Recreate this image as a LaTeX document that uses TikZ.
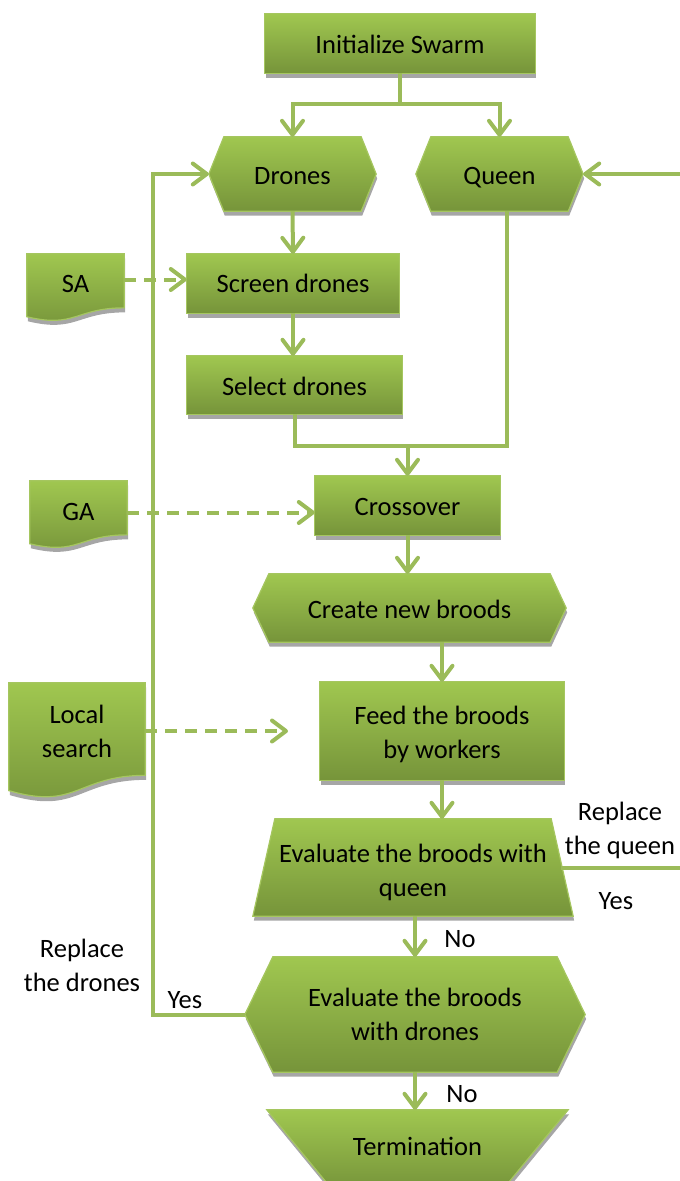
\documentclass[tikz,border=0pt]{standalone}
\usepackage{fontspec}
\setmainfont{Carlito}
\usetikzlibrary{arrows.meta,calc,backgrounds}
\definecolor{lc}{RGB}{155,187,89}
\definecolor{gtop}{RGB}{160,199,80}
\definecolor{gbot}{RGB}{118,148,58}
\definecolor{bordc}{RGB}{165,198,95}
\definecolor{shc}{RGB}{166,166,166}
\newcommand{\rectP}[1]{(#1.north west) rectangle (#1.south east)}
\newcommand{\hexP}[2]{($(#1.north west)+(#2,0)$) -- ($(#1.north east)+(-#2,0)$) -- (#1.east) -- ($(#1.south east)+(-#2,0)$) -- ($(#1.south west)+(#2,0)$) -- (#1.west) -- cycle}
\newcommand{\trapUpP}[2]{($(#1.north west)+(#2,0)$) -- ($(#1.north east)+(-#2,0)$) -- (#1.south east) -- (#1.south west) -- cycle}
\newcommand{\trapDnP}[2]{(#1.north west) -- (#1.north east) -- ($(#1.south east)+(-#2,0)$) -- ($(#1.south west)+(#2,0)$) -- cycle}
\newcommand{\docP}[1]{(#1.north west) -- (#1.north east) -- ($(#1.north east)!0.802!(#1.south east)$) .. controls ($(#1.north)!0.802!(#1.south)$) and ($(#1.north)!1.1075!(#1.south)$) .. ($(#1.north west)!0.934!(#1.south west)$) -- cycle}
\newcommand{\lnstrut}{\rule[-6pt]{0pt}{32pt}}
\newcommand{\twolines}[2]{\begin{tabular}{@{}c@{}}#1\\#2\end{tabular}}
\begin{document}
\begin{tikzpicture}[x=1pt,y=-1pt,
  every node/.style={font=\fontsize{26.5}{34}\selectfont},
  box/.style={inner sep=0pt, align=center},
  lbl/.style={inner sep=0pt, align=center},
  ln/.style={draw=lc, line width=4pt},
  arr/.style={draw=lc, line width=4pt, -{Straight Barb[length=14pt,width=21pt,line width=4pt,round]}},
  darr/.style={arr, dash pattern=on 12pt off 8pt},
  shp/.style={top color=gtop, bottom color=gbot, draw=bordc, line width=1.2pt},
  shd/.style={fill=shc}]
\useasboundingbox (0,0) rectangle (680,1181);

% nodes
\node[box, minimum width=270pt, minimum height=59pt] (init) at (400,43.5) {\lnstrut Initialize Swarm};
\node[box, minimum width=167pt, minimum height=74pt] (drones) at (292.5,174) {\lnstrut Drones};
\node[box, minimum width=167pt, minimum height=74pt] (queen) at (499.5,174) {\lnstrut Queen};
\node[box, minimum width=97pt, minimum height=67pt] (sa) at (75.5,287.5) {\rule[-11pt]{0pt}{32pt}SA};
\node[box, minimum width=212pt, minimum height=59pt] (screen) at (293,283.5) {\rule[-7pt]{0pt}{32pt}Screen drones};
\node[box, minimum width=215pt, minimum height=58pt] (select) at (294.5,385) {\lnstrut Select drones};
\node[box, minimum width=97pt, minimum height=67pt] (ga) at (78.5,514.5) {\rule[-10pt]{0pt}{32pt}GA};
\node[box, minimum width=185pt, minimum height=59pt] (cross) at (407.5,505.5) {\lnstrut Crossover};
\node[box, minimum width=313pt, minimum height=68pt] (create) at (409.5,608) {\lnstrut Create new broods};
\node[box, minimum width=136pt, minimum height=115pt] (local) at (77,740.5) {\twolines{Local}{search}\rule[-42pt]{0pt}{1pt}};
\node[box, minimum width=244pt, minimum height=98pt] (feed) at (442,731) {\rule{0pt}{47pt}\twolines{Feed the broods}{by workers}};
\node[box, minimum width=320pt, minimum height=97pt] (evalq) at (413,867.5) {\rule{0pt}{51pt}\twolines{Evaluate the broods with}{queen}};
\node[box, minimum width=340pt, minimum height=115pt] (evald) at (415,1014.5) {Evaluate the broods\\with drones};
\node[box, minimum width=301pt, minimum height=80pt] (term) at (417.5,1150) {\rule[-10.5pt]{0pt}{32pt}Termination};

% labels
\node[lbl] (lq) at (620,830) {Replace\\the queen};
\node[lbl] (yq) at (616,899) {\lnstrut Yes};
\node[lbl] (nq) at (460,937.5) {\lnstrut No};
\node[lbl] (ld) at (82,965) {Replace\\the drones};
\node[lbl] (yd) at (185,998) {\lnstrut Yes};
\node[lbl] (nd) at (462,1092) {\lnstrut No};

% shapes
\begin{scope}[on background layer]
  \begin{scope}[transform canvas={shift={(1pt,-4.5pt)}}]
    \fill[shd] \rectP{init};
    \fill[shd] \hexP{drones}{15};
    \fill[shd] \hexP{queen}{15};
    \fill[shd] \docP{sa};
    \fill[shd] \rectP{screen};
    \fill[shd] \rectP{select};
    \fill[shd] \docP{ga};
    \fill[shd] \rectP{cross};
    \fill[shd] \hexP{create}{16};
    \fill[shd] \docP{local};
    \fill[shd] \rectP{feed};
    \fill[shd] \trapUpP{evalq}{22};
    \fill[shd] \hexP{evald}{28};
    \fill[shd] \trapDnP{term}{66};
  \end{scope}
  \path[shp] \rectP{init};
  \path[shp] \hexP{drones}{15};
  \path[shp] \hexP{queen}{15};
  \path[shp] \docP{sa};
  \path[shp] \rectP{screen};
  \path[shp] \rectP{select};
  \path[shp] \docP{ga};
  \path[shp] \rectP{cross};
  \path[shp] \hexP{create}{16};
  \path[shp] \docP{local};
  \path[shp] \rectP{feed};
  \path[shp] \trapUpP{evalq}{22};
  \path[shp] \hexP{evald}{28};
  \path[shp] \trapDnP{term}{66};
\end{scope}

% connectors
\coordinate (split) at (400,104);
\draw[ln] (init.south) -- (split);
\draw[arr] (split) -| (drones.north);
\draw[arr] (split) -| (queen.north);
\draw[arr] (drones.south) -- (screen.north);
\draw[darr] ($(sa.east |- screen.west)+(0,-4)$) -- ($(screen.west)+(0,-4)$);
\draw[arr] (screen.south) -- (screen.south |- select.north);
\coordinate (merge) at (407.5,446);
\draw[ln] (select.south) |- (merge);
\draw[ln] ($(queen.south)+(7,0)$) |- (merge);
\draw[arr] (merge) -- (cross.north);
\draw[darr] ($(ga.east)+(0,-2)$) -- ($(cross.west |- ga.east)+(0,-2)$);
\draw[arr] (cross.south) -- (cross.south |- create.north);
\draw[arr] (feed.north |- create.south) -- (feed.north);
\coordinate (lsend) at (288,731);
\draw[darr] (local.east |- lsend) -- (lsend);
\draw[arr] (feed.south) -- (feed.south |- evalq.north);
\draw[arr] (evald.north |- evalq.south) -- (evald.north);
\draw[arr] (evald.south) -- (evald.south |- term.north);
\coordinate (loopx) at (153,0);
\draw[arr] (evald.west) -- (evald.west -| loopx) -- (loopx |- drones.west) -- (drones.west);
\coordinate (qout) at (695,0);
\draw[arr] ($(evalq.east)+(-12,0)$) -- (evalq.east -| qout) -- (qout |- queen.east) -- (queen.east);
\end{tikzpicture}
\end{document}
